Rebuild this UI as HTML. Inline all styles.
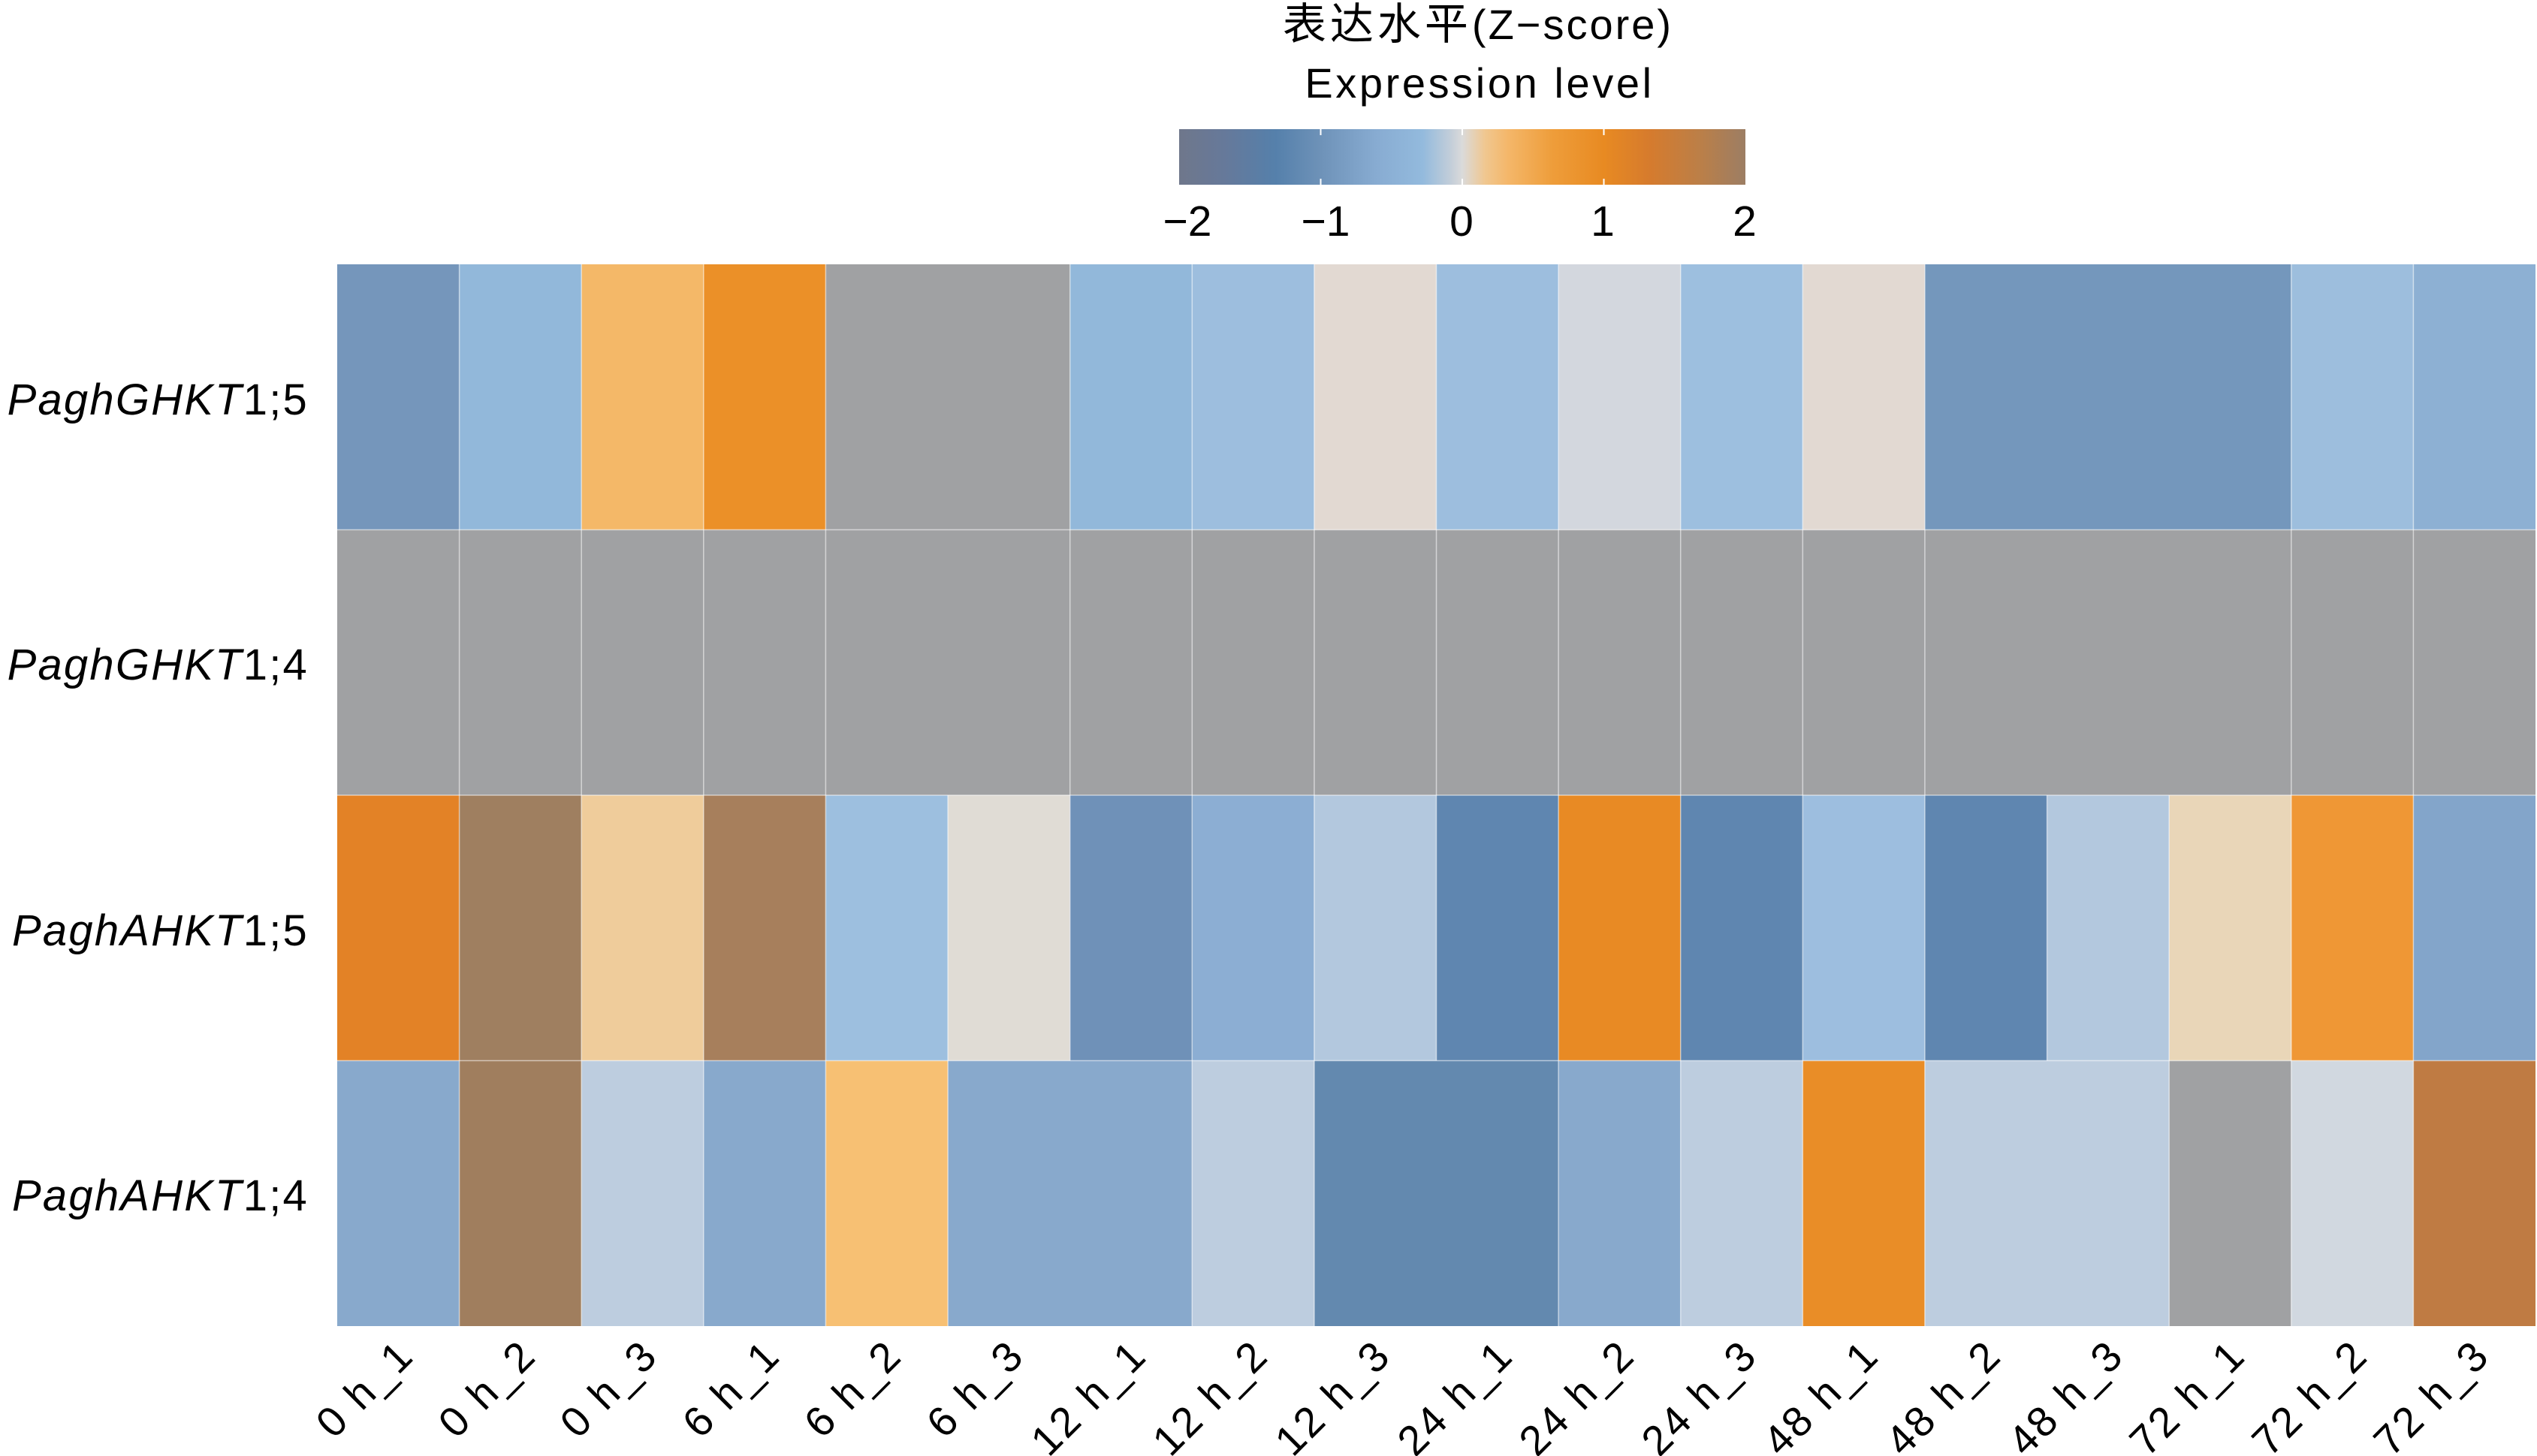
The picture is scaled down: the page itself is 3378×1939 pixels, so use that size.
<!DOCTYPE html>
<html>
<head>
<meta charset="utf-8">
<style>
html,body{margin:0;padding:0;background:#fff;}
svg{display:block;}
text{font-family:"Liberation Sans","Noto Sans CJK SC",sans-serif;fill:#000;}
</style>
</head>
<body>
<svg width="3378" height="1939" viewBox="0 0 3378 1939" xmlns="http://www.w3.org/2000/svg">
<defs>
<linearGradient id="cb" x1="0" y1="0" x2="1" y2="0">
<stop offset="0" stop-color="#6f778b"/>
<stop offset="0.08" stop-color="#66799a"/>
<stop offset="0.17" stop-color="#5580ab"/>
<stop offset="0.25" stop-color="#6e92b8"/>
<stop offset="0.35" stop-color="#88acd2"/>
<stop offset="0.43" stop-color="#93badd"/>
<stop offset="0.48" stop-color="#c3ced9"/>
<stop offset="0.5" stop-color="#dadada"/>
<stop offset="0.54" stop-color="#f0c790"/>
<stop offset="0.58" stop-color="#f4b76a"/>
<stop offset="0.66" stop-color="#ee9d3a"/>
<stop offset="0.75" stop-color="#e88a22"/>
<stop offset="0.83" stop-color="#d67b2d"/>
<stop offset="0.92" stop-color="#bb7f48"/>
<stop offset="1" stop-color="#9c7e64"/>
</linearGradient>
</defs>

<!-- Title -->
<text x="1968" y="52" font-size="56" text-anchor="middle" letter-spacing="3"><tspan font-family="'Noto Sans CJK SC',sans-serif" font-size="58" letter-spacing="5">表达水平</tspan>(Z−score)</text>
<text x="1970" y="130" font-size="56" text-anchor="middle" letter-spacing="3.6">Expression level</text>

<!-- Colorbar -->
<rect x="1570" y="172" width="754" height="74" fill="url(#cb)"/>
<g stroke="#fff" stroke-width="2">
<line x1="1758.5" y1="172" x2="1758.5" y2="180"/><line x1="1758.5" y1="238" x2="1758.5" y2="246"/>
<line x1="1947" y1="172" x2="1947" y2="180"/><line x1="1947" y1="238" x2="1947" y2="246"/>
<line x1="2135.5" y1="172" x2="2135.5" y2="180"/><line x1="2135.5" y1="238" x2="2135.5" y2="246"/>
</g>
<g font-size="57" text-anchor="middle">
<text x="1581" y="314">−2</text>
<text x="1765" y="314">−1</text>
<text x="1946" y="314">0</text>
<text x="2134" y="314">1</text>
<text x="2323" y="314">2</text>
</g>

<!-- Heatmap row 1 -->
<g>
<rect x="449" y="352" width="163.6" height="354.5" fill="#7596bb"/>
<rect x="611.6" y="352" width="163.6" height="354.5" fill="#92b8da"/>
<rect x="774.2" y="352" width="163.6" height="354.5" fill="#f4b868"/>
<rect x="936.8" y="352" width="163.6" height="354.5" fill="#eb9028"/>
<rect x="1099.4" y="352" width="163.6" height="354.5" fill="#a0a1a3"/>
<rect x="1262.1" y="352" width="163.6" height="354.5" fill="#a0a1a3"/>
<rect x="1424.7" y="352" width="163.6" height="354.5" fill="#92b8da"/>
<rect x="1587.3" y="352" width="163.6" height="354.5" fill="#9dbede"/>
<rect x="1749.9" y="352" width="163.6" height="354.5" fill="#e2d9d2"/>
<rect x="1912.5" y="352" width="163.6" height="354.5" fill="#9dbede"/>
<rect x="2075.1" y="352" width="163.6" height="354.5" fill="#d3d7de"/>
<rect x="2237.7" y="352" width="163.6" height="354.5" fill="#9dbfdf"/>
<rect x="2400.3" y="352" width="163.6" height="354.5" fill="#e2d9d2"/>
<rect x="2562.9" y="352" width="163.6" height="354.5" fill="#7497bc"/>
<rect x="2725.6" y="352" width="163.6" height="354.5" fill="#7497bc"/>
<rect x="2888.2" y="352" width="163.6" height="354.5" fill="#7497bc"/>
<rect x="3050.8" y="352" width="163.6" height="354.5" fill="#9dbedd"/>
<rect x="3213.4" y="352" width="162.6" height="354.5" fill="#8db0d3"/>
</g>
<!-- Row 2 -->
<rect x="449" y="705.5" width="2927" height="354.5" fill="#a0a1a3"/>
<!-- Row 3 -->
<g>
<rect x="449" y="1059" width="163.6" height="354.5" fill="#e38226"/>
<rect x="611.6" y="1059" width="163.6" height="354.5" fill="#9f7f60"/>
<rect x="774.2" y="1059" width="163.6" height="354.5" fill="#efcc9b"/>
<rect x="936.8" y="1059" width="163.6" height="354.5" fill="#a77f5c"/>
<rect x="1099.4" y="1059" width="163.6" height="354.5" fill="#9dbfdf"/>
<rect x="1262.1" y="1059" width="163.6" height="354.5" fill="#e0dcd5"/>
<rect x="1424.7" y="1059" width="163.6" height="354.5" fill="#6f91b8"/>
<rect x="1587.3" y="1059" width="163.6" height="354.5" fill="#8caed3"/>
<rect x="1749.9" y="1059" width="163.6" height="354.5" fill="#b3c8de"/>
<rect x="1912.5" y="1059" width="163.6" height="354.5" fill="#5f86b0"/>
<rect x="2075.1" y="1059" width="163.6" height="354.5" fill="#e88a24"/>
<rect x="2237.7" y="1059" width="163.6" height="354.5" fill="#5f86b0"/>
<rect x="2400.3" y="1059" width="163.6" height="354.5" fill="#9dbedf"/>
<rect x="2562.9" y="1059" width="163.6" height="354.5" fill="#5f86b0"/>
<rect x="2725.6" y="1059" width="163.6" height="354.5" fill="#b3c8de"/>
<rect x="2888.2" y="1059" width="163.6" height="354.5" fill="#e9d6b8"/>
<rect x="3050.8" y="1059" width="163.6" height="354.5" fill="#ef9735"/>
<rect x="3213.4" y="1059" width="162.6" height="354.5" fill="#83a5ca"/>
</g>
<!-- Row 4 -->
<g>
<rect x="449" y="1412.5" width="163.6" height="353.5" fill="#88a9cc"/>
<rect x="611.6" y="1412.5" width="163.6" height="353.5" fill="#a07e5e"/>
<rect x="774.2" y="1412.5" width="163.6" height="353.5" fill="#bdcddf"/>
<rect x="936.8" y="1412.5" width="163.6" height="353.5" fill="#88a9cc"/>
<rect x="1099.4" y="1412.5" width="163.6" height="353.5" fill="#f7c073"/>
<rect x="1262.1" y="1412.5" width="163.6" height="353.5" fill="#88a9cc"/>
<rect x="1424.7" y="1412.5" width="163.6" height="353.5" fill="#88a9cc"/>
<rect x="1587.3" y="1412.5" width="163.6" height="353.5" fill="#bdcddf"/>
<rect x="1749.9" y="1412.5" width="163.6" height="353.5" fill="#6389af"/>
<rect x="1912.5" y="1412.5" width="163.6" height="353.5" fill="#6389af"/>
<rect x="2075.1" y="1412.5" width="163.6" height="353.5" fill="#88a9cc"/>
<rect x="2237.7" y="1412.5" width="163.6" height="353.5" fill="#bdcddf"/>
<rect x="2400.3" y="1412.5" width="163.6" height="353.5" fill="#e98d27"/>
<rect x="2562.9" y="1412.5" width="163.6" height="353.5" fill="#bdcddf"/>
<rect x="2725.6" y="1412.5" width="163.6" height="353.5" fill="#bdcddf"/>
<rect x="2888.2" y="1412.5" width="163.6" height="353.5" fill="#a0a1a3"/>
<rect x="3050.8" y="1412.5" width="163.6" height="353.5" fill="#d1d8e0"/>
<rect x="3213.4" y="1412.5" width="162.6" height="353.5" fill="#bf7b43"/>
</g>

<!-- Cell separators -->
<g stroke="#ffffff" stroke-width="1.5" stroke-opacity="0.55">
<line x1="611.6" y1="352" x2="611.6" y2="1766"/>
<line x1="774.2" y1="352" x2="774.2" y2="1766"/>
<line x1="936.8" y1="352" x2="936.8" y2="1766"/>
<line x1="1099.4" y1="352" x2="1099.4" y2="1766"/>
<line x1="1262.1" y1="1059" x2="1262.1" y2="1766"/>
<line x1="1424.7" y1="352" x2="1424.7" y2="1412.5"/>
<line x1="1587.3" y1="352" x2="1587.3" y2="1766"/>
<line x1="1749.9" y1="352" x2="1749.9" y2="1766"/>
<line x1="1912.5" y1="352" x2="1912.5" y2="1412.5"/>
<line x1="2075.1" y1="352" x2="2075.1" y2="1766"/>
<line x1="2237.7" y1="352" x2="2237.7" y2="1766"/>
<line x1="2400.3" y1="352" x2="2400.3" y2="1766"/>
<line x1="2562.9" y1="352" x2="2562.9" y2="1766"/>
<line x1="2725.6" y1="1059" x2="2725.6" y2="1412.5"/>
<line x1="2888.2" y1="1059" x2="2888.2" y2="1766"/>
<line x1="3050.8" y1="352" x2="3050.8" y2="1766"/>
<line x1="3213.4" y1="352" x2="3213.4" y2="1766"/>
<line x1="449" y1="705.5" x2="3376" y2="705.5"/>
<line x1="449" y1="1059" x2="3376" y2="1059"/>
<line x1="449" y1="1412.5" x2="3376" y2="1412.5"/>
</g>

<!-- Row labels -->
<g font-size="58" text-anchor="end" letter-spacing="2.2">
<text x="411" y="552"><tspan font-style="italic">PaghGHKT</tspan>1;5</text>
<text x="411" y="905"><tspan font-style="italic">PaghGHKT</tspan>1;4</text>
<text x="411" y="1259"><tspan font-style="italic">PaghAHKT</tspan>1;5</text>
<text x="411" y="1612"><tspan font-style="italic">PaghAHKT</tspan>1;4</text>
</g>

<!-- Column labels -->
<g font-size="56" text-anchor="end" letter-spacing="3">
<text transform="translate(554,1808) rotate(-45)">0 h_1</text>
<text transform="translate(717,1808) rotate(-45)">0 h_2</text>
<text transform="translate(879,1808) rotate(-45)">0 h_3</text>
<text transform="translate(1042,1808) rotate(-45)">6 h_1</text>
<text transform="translate(1204,1808) rotate(-45)">6 h_2</text>
<text transform="translate(1367,1808) rotate(-45)">6 h_3</text>
<text transform="translate(1530,1808) rotate(-45)">12 h_1</text>
<text transform="translate(1692,1808) rotate(-45)">12 h_2</text>
<text transform="translate(1855,1808) rotate(-45)">12 h_3</text>
<text transform="translate(2018,1808) rotate(-45)">24 h_1</text>
<text transform="translate(2180,1808) rotate(-45)">24 h_2</text>
<text transform="translate(2343,1808) rotate(-45)">24 h_3</text>
<text transform="translate(2505,1808) rotate(-45)">48 h_1</text>
<text transform="translate(2668,1808) rotate(-45)">48 h_2</text>
<text transform="translate(2831,1808) rotate(-45)">48 h_3</text>
<text transform="translate(2993,1808) rotate(-45)">72 h_1</text>
<text transform="translate(3156,1808) rotate(-45)">72 h_2</text>
<text transform="translate(3318,1808) rotate(-45)">72 h_3</text>
</g>
</svg>
</body>
</html>
